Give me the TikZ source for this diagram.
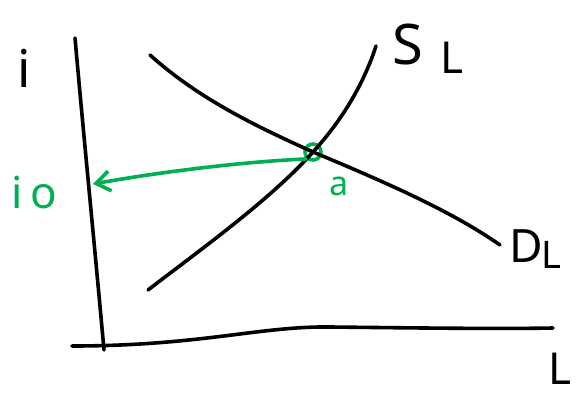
\documentclass[tikz,border=0pt]{standalone}
\usepackage{fontspec}
\setmainfont{Noto Sans}
\usetikzlibrary{arrows.meta}
\definecolor{pengreen}{RGB}{0,176,80}
\begin{document}
\begin{tikzpicture}[x=1pt,y=-1pt,
  ink/.style={line width=3.6pt, line cap=round, line join=round},
  greenink/.style={ink, draw=pengreen},
  lbl/.style={inner sep=0pt, anchor=base},
  glbl/.style={lbl, text=pengreen}]
\useasboundingbox (0,0) rectangle (587,396);
% axes
\coordinate (ytop) at (75,38);
\coordinate (ybot) at (104,350);
\coordinate (xl) at (72,346);
\coordinate (xm) at (330,327);
\coordinate (xr) at (553,328);
\draw[ink] (ytop) .. controls (85,150) and (95,250) .. (ybot);
\draw[ink] (xl) .. controls (200,346) and (260,326) .. (xm) .. controls (420,328) and (500,329) .. (xr);
% equilibrium
\node[circle, draw=pengreen, line width=3.6pt, minimum size=16pt, inner sep=0pt] (a) at (313,152) {};
% supply
\coordinate (s0) at (148,290);
\coordinate (s1) at (376,46);
\draw[ink] (s0) .. controls (200,250) and (270,200) .. (a.center) .. controls (345,117) and (365,80) .. (s1);
% demand
\coordinate (d0) at (150,55);
\coordinate (d1) at (500,245);
\draw[ink] (d0) .. controls (200,100) and (260,128) .. (a.center) .. controls (380,180) and (450,210) .. (d1);
% arrow to axis
\coordinate (i0pt) at (93,184);
\draw[greenink, -{Straight Barb[length=14pt, width=20pt, line width=3.6pt]}] (a.south west) .. controls (240,162) and (160,172) .. (i0pt);
% labels
\node[lbl, font=\fontsize{52}{52}\selectfont] (ilab) at (24,88) {i};
\node[glbl, font=\fontsize{44}{44}\selectfont] (i0lab) at (34,208) {i\,o};
\node[glbl, font=\fontsize{34}{34}\selectfont] (alab) at (339,195) {a};
\node[lbl, font=\fontsize{56}{56}\selectfont] (slab) at (408,65) {S};
\node[lbl, font=\fontsize{44}{44}\selectfont] (slabL) at (452,74) {L};
\node[lbl, font=\fontsize{46}{46}\selectfont] (dlab) at (526,262) {D};
\node[lbl, font=\fontsize{38}{38}\selectfont] (dlabL) at (551,268) {L};
\node[lbl, font=\fontsize{44}{44}\selectfont] (llab) at (560,384) {L};
\end{tikzpicture}
\end{document}
